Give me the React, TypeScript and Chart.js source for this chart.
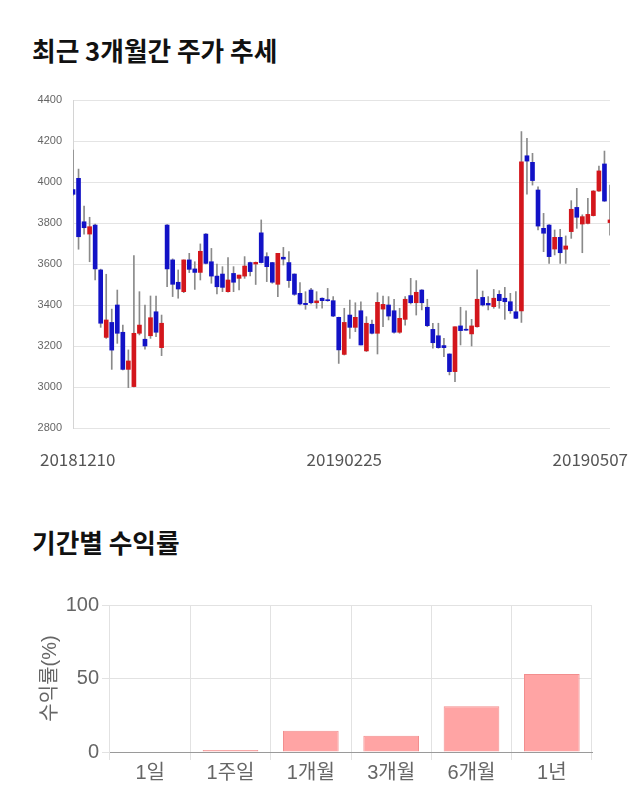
import React, { useEffect, useRef } from "react";
import { Chart, registerables } from "chart.js";

Chart.register(...registerables);

const dates = [
  "20181210", "20181211", "20181212", "20181213", "20181214", "20181217", "20181218", "20181219", "20181220", "20181221",
  "20181224", "20181226", "20181227", "20181228", "20190102", "20190103", "20190104", "20190107", "20190108", "20190109",
  "20190110", "20190111", "20190114", "20190115", "20190116", "20190117", "20190118", "20190121", "20190122", "20190123",
  "20190124", "20190125", "20190128", "20190129", "20190130", "20190131", "20190201", "20190207", "20190208", "20190211",
  "20190212", "20190213", "20190214", "20190215", "20190218", "20190219", "20190220", "20190221", "20190222", "20190225",
  "20190226", "20190227", "20190228", "20190304", "20190305", "20190306", "20190307", "20190308", "20190311", "20190312",
  "20190313", "20190314", "20190315", "20190318", "20190319", "20190320", "20190321", "20190322", "20190325", "20190326",
  "20190327", "20190328", "20190329", "20190401", "20190402", "20190403", "20190404", "20190405", "20190408", "20190409",
  "20190410", "20190411", "20190412", "20190415", "20190416", "20190417", "20190418", "20190419", "20190422", "20190423",
  "20190424", "20190425", "20190426", "20190429", "20190430", "20190502", "20190503", "20190507",
];

const openPrices = [
  3963, 4018, 3806, 3746, 3790, 3571, 3242, 3315, 3400, 3267,
  3086, 3002, 3262, 3233, 3250, 3367, 3192, 3790, 3620, 3511,
  3465, 3620, 3576, 3559, 3746, 3611, 3541, 3551, 3465, 3554,
  3530, 3541, 3607, 3600, 3752, 3636, 3607, 3501, 3633, 3607,
  3551, 3457, 3408, 3473, 3411, 3433, 3424, 3421, 3340, 3159,
  3351, 3291, 3372, 3176, 3306, 3262, 3380, 3400, 3372, 3267,
  3330, 3446, 3411, 3473, 3389, 3281, 3250, 3202, 3161, 3075,
  3298, 3280, 3259, 3294, 3437, 3408, 3392, 3452, 3433, 3416,
  3367, 3371, 4128, 4096, 3961, 3774, 3790, 3673, 3730, 3672,
  3758, 3876, 3795, 3798, 3836, 3956, 4088, 3802,
];

const highPrices = [
  4156, 4063, 3883, 3828, 3795, 3575, 3550, 3380, 3473, 3302,
  3181, 3641, 3465, 3400, 3444, 3444, 3351, 3792, 3625, 3571,
  3620, 3652, 3611, 3698, 3748, 3676, 3600, 3587, 3631, 3587,
  3546, 3636, 3609, 3610, 3815, 3655, 3608, 3652, 3681, 3660,
  3552, 3509, 3465, 3481, 3465, 3435, 3481, 3441, 3341, 3384,
  3424, 3411, 3416, 3343, 3327, 3460, 3444, 3441, 3428, 3384,
  3441, 3530, 3519, 3475, 3428, 3311, 3311, 3237, 3162, 3294,
  3389, 3372, 3330, 3571, 3468, 3441, 3476, 3470, 3486, 3457,
  3465, 4246, 4213, 4140, 3977, 3847, 3792, 3766, 3769, 3737,
  3909, 3969, 3840, 3920, 3958, 4078, 4151, 3985,
];

const lowPrices = [
  3935, 3672, 3746, 3611, 3522, 3291, 3237, 3086, 3213, 3083,
  2997, 3000, 3254, 3184, 3237, 3245, 3153, 3489, 3441, 3433,
  3460, 3558, 3476, 3522, 3600, 3506, 3454, 3465, 3462, 3465,
  3473, 3530, 3542, 3500, 3605, 3514, 3506, 3441, 3595, 3486,
  3447, 3400, 3379, 3405, 3384, 3384, 3418, 3343, 3115, 3156,
  3237, 3270, 3205, 3173, 3259, 3161, 3294, 3327, 3262, 3262,
  3302, 3405, 3351, 3376, 3294, 3189, 3189, 3148, 3059, 3026,
  3205, 3276, 3200, 3292, 3395, 3376, 3384, 3384, 3330, 3359,
  3333, 3315, 3941, 3985, 3766, 3660, 3603, 3644, 3603, 3603,
  3725, 3774, 3655, 3795, 3834, 3954, 3905, 3741,
];

const closePrices = [
  3940, 3733, 3777, 3782, 3576, 3311, 3327, 3180, 3262, 3086,
  3127, 3262, 3302, 3200, 3338, 3267, 3311, 3576, 3501, 3478,
  3620, 3574, 3559, 3662, 3603, 3541, 3489, 3486, 3522, 3511,
  3546, 3590, 3563, 3608, 3607, 3587, 3511, 3652, 3624, 3519,
  3452, 3405, 3402, 3411, 3420, 3421, 3421, 3346, 3181, 3315,
  3291, 3340, 3205, 3311, 3262, 3413, 3403, 3346, 3267, 3335,
  3428, 3411, 3462, 3411, 3299, 3216, 3192, 3192, 3075, 3294,
  3275, 3277, 3298, 3428, 3400, 3400, 3433, 3421, 3416, 3372,
  3335, 4099, 4102, 4007, 3785, 3750, 3636, 3730, 3655, 3688,
  3867, 3828, 3831, 3842, 3956, 4054, 3907, 3815,
];

const priceMin = 2800;
const priceMax = 4400;
const priceStep = 200;
const dateTickLabels = ["20181210", "20190225", "20190507"];

const periods = ["1일", "1주일", "1개월", "3개월", "6개월", "1년"];
const returns = [0, 1.4, 14.4, 11, 31.2, 53];
const returnTicksMax = 100;
const returnTicksStep = 50;

const UP_COLOR = "#d3161c";
const DOWN_COLOR = "#1212c6";

const dateLabelPlugin = {
  id: "dateLabels",
  afterDraw(chart: any) {
    const ctx = chart.ctx;
    const xs = chart.scales.x;
    ctx.save();
    ctx.font = '17px "Noto Sans CJK KR", "Noto Sans", sans-serif';
    ctx.fillStyle = "#555";
    ctx.textBaseline = "alphabetic";
    ctx.textAlign = "left";
    const minLeft = 40;
    const maxRight = chart.width - 12;
    dateTickLabels.forEach((lbl) => {
      const i = dates.indexOf(lbl);
      if (i < 0) return;
      const w = ctx.measureText(lbl).width;
      let left = xs.getPixelForValue(i) - w / 2;
      left = Math.max(minLeft, Math.min(maxRight - w, left));
      ctx.fillText(lbl, left, 376);
    });
    ctx.restore();
  },
};

function CandleChart() {
  const ref = useRef<HTMLCanvasElement | null>(null);
  useEffect(() => {
    if (!ref.current) return;
    const bodyColors = openPrices.map((o, i) => (closePrices[i] >= o ? UP_COLOR : DOWN_COLOR));
    const chart = new Chart(ref.current, {
      type: "bar",
      data: {
        labels: dates,
        datasets: [
          {
            label: "body",
            data: dates.map((_, i) => [openPrices[i], closePrices[i]]) as any,
            backgroundColor: bodyColors,
            borderWidth: 0,
            barThickness: 4,
            minBarLength: 1,
            grouped: false,
            order: 0,
          } as any,
          {
            label: "wick",
            data: dates.map((_, i) => [lowPrices[i], highPrices[i]]) as any,
            backgroundColor: "#8a8a8a",
            borderWidth: 0,
            barThickness: 1,
            grouped: false,
            order: 1,
          } as any,
        ],
      },
      options: {
        animation: false,
        responsive: false,
        maintainAspectRatio: false,
        layout: { padding: { top: 10, right: 30, left: 0, bottom: 0 } },
        plugins: { legend: { display: false }, tooltip: { enabled: false } },
        scales: {
          x: {
            type: "category",
            offset: false,
            grid: { display: false },
            border: { display: false },
            ticks: { display: false },
            afterFit: (s: any) => {
              s.height = 62;
            },
          },
          y: {
            min: priceMin,
            max: priceMax,
            grid: { color: "#e4e4e4", drawTicks: true, tickLength: 8, tickColor: "rgba(0,0,0,0)" },
            border: { display: true, color: "#d4d4d4" },
            ticks: {
              stepSize: priceStep,
              padding: 3,
              color: "#666",
              font: { family: "'Liberation Sans', Arial, sans-serif", size: 11 },
              callback: (v: any) => String(v),
            },
            afterFit: (s: any) => {
              s.width = 73;
            },
          },
        },
      } as any,
      plugins: [dateLabelPlugin],
    });
    return () => chart.destroy();
  }, []);
  return <canvas ref={ref} width={640} height={400} style={{ width: 640, height: 400, display: "block" }} />;
}

function ReturnChart() {
  const ref = useRef<HTMLCanvasElement | null>(null);
  useEffect(() => {
    if (!ref.current) return;
    const chart = new Chart(ref.current, {
      type: "bar",
      data: {
        labels: periods,
        datasets: [
          {
            label: "수익률",
            data: returns,
            backgroundColor: "#ffa4a4",
            borderColor: "#f28e8e",
            borderWidth: 1,
            barPercentage: 0.9,
            categoryPercentage: 0.77,
          },
        ],
      },
      options: {
        animation: false,
        responsive: false,
        maintainAspectRatio: false,
        layout: { padding: { top: 25, right: 48, left: 31, bottom: 0 } },
        plugins: { legend: { display: false }, tooltip: { enabled: false } },
        scales: {
          x: {
            grid: {
              color: (c: any) => (c.index === periods.length ? "rgba(0,0,0,0)" : "#e2e2e2"),
              tickLength: 8,
            },
            border: { display: true, color: "#9a9a9a" },
            ticks: {
              color: "#666",
              padding: 1,
              font: { family: "'Liberation Sans', 'Noto Sans CJK KR', sans-serif", size: 20 },
            },
            afterFit: (s: any) => {
              s.height = 43;
            },
          },
          y: {
            min: 0,
            max: returnTicksMax,
            grid: { color: "#e2e2e2", tickLength: 8 },
            border: { display: false },
            ticks: {
              stepSize: returnTicksStep,
              color: "#666",
              padding: 3,
              font: { family: "'Liberation Sans', Arial, sans-serif", size: 20 },
            },
            title: {
              display: true,
              text: "수익률(%)",
              color: "#666",
              padding: { top: 7, bottom: 4 },
              font: { family: "'Liberation Sans', 'Noto Sans CJK KR', sans-serif", size: 20, weight: "normal" },
            },
            afterFit: (s: any) => {
              s.width = 79;
            },
          },
        },
      } as any,
    });
    return () => chart.destroy();
  }, []);
  return <canvas ref={ref} width={640} height={215} style={{ width: 640, height: 215, display: "block" }} />;
}

export default function App() {
  const titleStyle: React.CSSProperties = {
    position: "absolute",
    left: 32,
    margin: 0,
    fontFamily: "'Noto Sans CJK KR', sans-serif",
    fontWeight: 700,
    fontSize: 25.7,
    lineHeight: "26px",
    color: "#111",
    whiteSpace: "nowrap",
  };
  return (
    <div
      style={{
        position: "absolute",
        left: 0,
        top: 0,
        width: 640,
        height: 810,
        background: "#fff",
        overflow: "hidden",
        fontFamily: "'Noto Sans CJK KR', sans-serif",
      }}
    >
      <div style={{ ...titleStyle, top: 37 }}>최근 3개월간 주가 추세</div>
      <div style={{ position: "absolute", left: 0, top: 90, width: 640, height: 400 }}>
        <CandleChart />
      </div>
      <div style={{ ...titleStyle, top: 529 }}>기간별 수익률</div>
      <div style={{ position: "absolute", left: 0, top: 580, width: 640, height: 215 }}>
        <ReturnChart />
      </div>
    </div>
  );
}
